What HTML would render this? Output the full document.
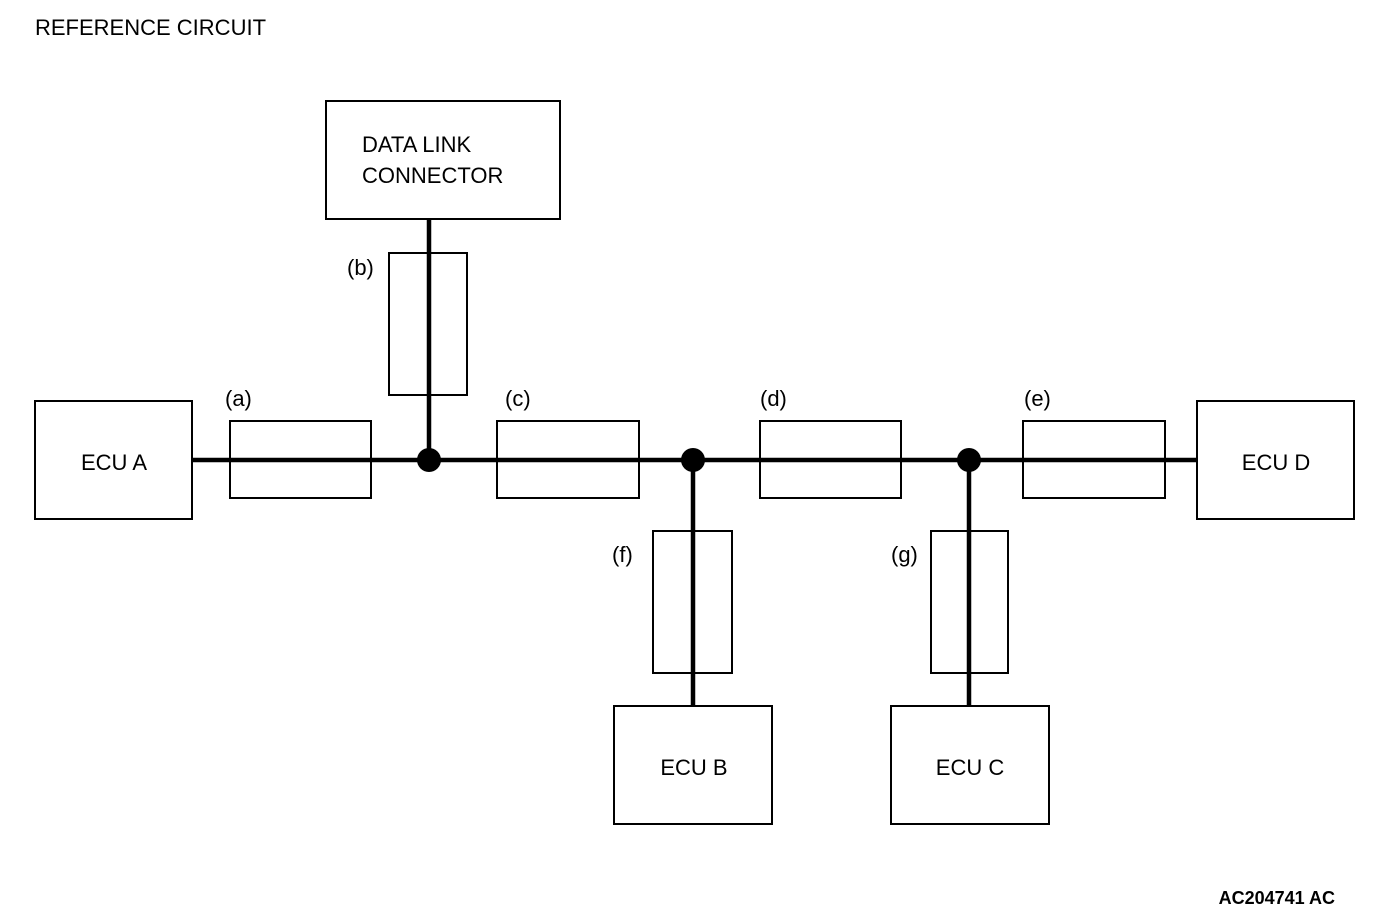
<!DOCTYPE html>
<html><head><meta charset="utf-8"><style>
html,body{margin:0;padding:0;background:#fff;}
svg{display:block;}
text{font-family:"Liberation Sans",sans-serif;font-size:22px;fill:#000;}
</style></head><body>
<svg width="1392" height="920" viewBox="0 0 1392 920" xmlns="http://www.w3.org/2000/svg">
<text x="35" y="35">REFERENCE CIRCUIT</text>
<g fill="none" stroke="#000" stroke-width="2">
<rect x="326" y="101" width="234" height="118"/>
<rect x="35" y="401" width="157" height="118"/>
<rect x="1197" y="401" width="157" height="118"/>
<rect x="614" y="706" width="158" height="118"/>
<rect x="891" y="706" width="158" height="118"/>
<rect x="389" y="253" width="78" height="142"/>
<rect x="230" y="421" width="141" height="77"/>
<rect x="497" y="421" width="142" height="77"/>
<rect x="760" y="421" width="141" height="77"/>
<rect x="1023" y="421" width="142" height="77"/>
<rect x="653" y="531" width="79" height="142"/>
<rect x="931" y="531" width="77" height="142"/>
</g>
<g stroke="#000" stroke-width="4.5" fill="none">
<line x1="193" y1="460" x2="1197" y2="460"/>
<line x1="429" y1="219" x2="429" y2="460"/>
<line x1="693" y1="460" x2="693" y2="706"/>
<line x1="969" y1="460" x2="969" y2="706"/>
</g>
<circle cx="429" cy="460" r="12"/>
<circle cx="693" cy="460" r="12"/>
<circle cx="969" cy="460" r="12"/>
<text x="362" y="152">DATA LINK</text>
<text x="362" y="183">CONNECTOR</text>
<text x="114" y="470" text-anchor="middle">ECU A</text>
<text x="1276" y="470" text-anchor="middle">ECU D</text>
<text x="694" y="775" text-anchor="middle">ECU B</text>
<text x="970" y="775" text-anchor="middle">ECU C</text>
<text x="225" y="406">(a)</text>
<text x="347" y="275">(b)</text>
<text x="505" y="406">(c)</text>
<text x="760" y="406">(d)</text>
<text x="1024" y="406">(e)</text>
<text x="612" y="562">(f)</text>
<text x="891" y="562">(g)</text>
<text x="1335" y="904" text-anchor="end" style="font-weight:bold;font-size:18px">AC204741 AC</text>
</svg>
</body></html>
